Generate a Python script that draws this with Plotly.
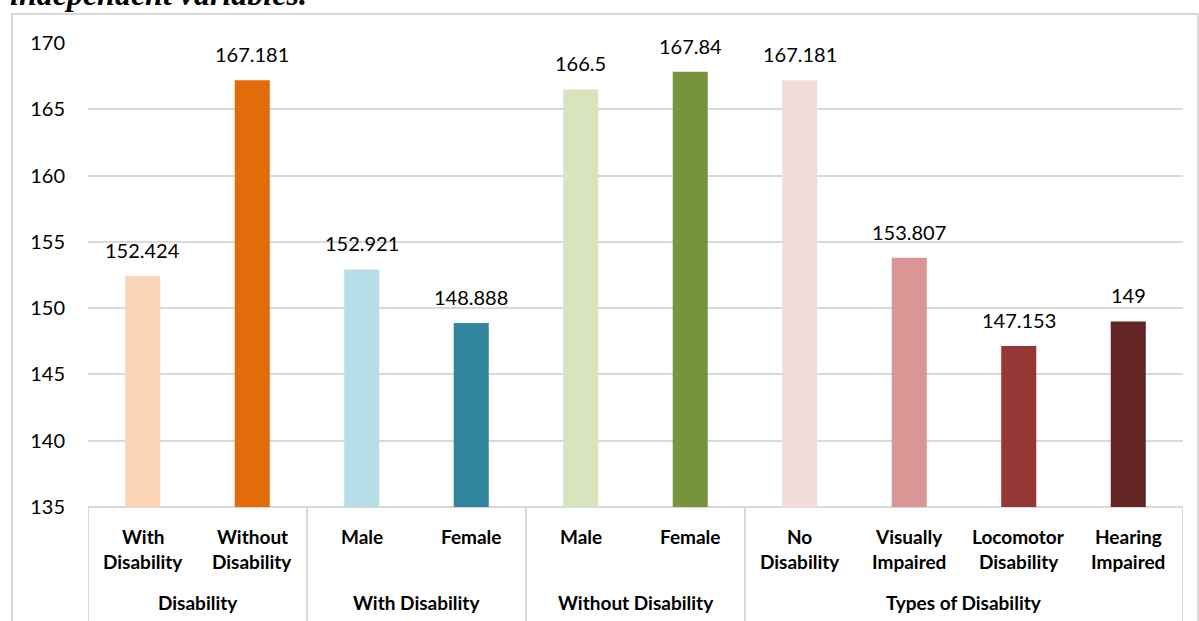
import plotly.graph_objects as go

# ---- data ----
values = [152.424, 167.181, 152.921, 148.888, 166.5, 167.84, 167.181, 153.807, 147.153, 149]
value_labels = ["152.424", "167.181", "152.921", "148.888", "166.5", "167.84", "167.181", "153.807", "147.153", "149"]
label_line1 = ["With", "Without", "Male", "Female", "Male", "Female", "No", "Visually", "Locomotor", "Hearing"]
label_line2 = ["Disability", "Disability", "", "", "", "", "Disability", "Impaired", "Disability", "Impaired"]
groups = ["Disability", "With Disability", "Without Disability", "Types of Disability"]
group_sizes = [2, 2, 2, 4]
bar_colors = ["#FBD5B5", "#E36C0A", "#B7DEE8", "#31859C", "#D7E4BD",
              "#77933C", "#F2DCDB", "#D99694", "#953735", "#632523"]
y_ticks = [135, 140, 145, 150, 155, 160, 165, 170]
title_text = "independent variables."

W, H = 1199, 621
ML, MR, MT, MB = 88, 16, 43, 114
PW = W - ML - MR
PH = H - MT - MB


def px_x(p):
    return (p - ML) / PW


def px_y(p):
    return (H - MB - p) / PH


FONT = "Lato"
LBL = 19
n = len(values)
xs = list(range(n))

fig = go.Figure()
fig.add_trace(go.Bar(
    x=xs, y=values, marker=dict(color=bar_colors, line=dict(width=0)),
    width=0.32, hoverinfo="skip", showlegend=False,
))

annotations = []
# value labels
for i, v in enumerate(values):
    annotations.append(dict(
        x=i, y=v, xref="x", yref="y", text=value_labels[i], showarrow=False,
        yanchor="bottom", xanchor="center", yshift=12,
        font=dict(family=FONT, size=20, color="#000000"),
    ))
# category labels
for i in range(n):
    annotations.append(dict(
        x=i, y=px_y(536), xref="x", yref="paper", text="<b>%s</b>" % label_line1[i],
        showarrow=False, yanchor="middle", xanchor="center",
        font=dict(family=FONT, size=LBL, color="#000000"),
    ))
    if label_line2[i]:
        annotations.append(dict(
            x=i, y=px_y(561), xref="x", yref="paper", text="<b>%s</b>" % label_line2[i],
            showarrow=False, yanchor="middle", xanchor="center",
            font=dict(family=FONT, size=LBL, color="#000000"),
        ))
# group labels & separators
shapes = []
start = 0
bounds = [-0.5]
for g, s in zip(groups, group_sizes):
    center = start + (s - 1) / 2
    annotations.append(dict(
        x=center, y=px_y(602), xref="x", yref="paper", text="<b>%s</b>" % g,
        showarrow=False, yanchor="middle", xanchor="center",
        font=dict(family=FONT, size=LBL, color="#000000"),
    ))
    start += s
    bounds.append(start - 0.5)
for b in bounds:
    shapes.append(dict(type="line", xref="x", yref="paper", x0=b, x1=b,
                       y0=0, y1=px_y(640), line=dict(color="#D9D9D9", width=2)))
# axis line at the bottom of the plot
shapes.append(dict(type="line", xref="paper", yref="paper", x0=0, x1=1, y0=0, y1=0,
                   line=dict(color="#D9D9D9", width=2), layer="below"))
# outer chart border
shapes.append(dict(type="rect", xref="paper", yref="paper",
                   x0=px_x(12), x1=px_x(1198), y0=px_y(660), y1=px_y(14),
                   line=dict(color="#D9D9D9", width=2), fillcolor="rgba(0,0,0,0)", layer="below"))

# title (cut off at the top, as in the source)
annotations.append(dict(
    x=px_x(8), y=px_y(14), xref="paper", yref="paper", text="<b><i>%s</i></b>" % title_text,
    showarrow=False, xanchor="left", yanchor="bottom",
    font=dict(family="Liberation Serif", size=32, color="#000000"),
))

fig.update_layout(
    width=W, height=H,
    margin=dict(l=ML, r=MR, t=MT, b=MB),
    paper_bgcolor="white", plot_bgcolor="white",
    annotations=annotations, shapes=shapes,
    bargap=0.68,
    xaxis=dict(range=[-0.5, n - 0.5], showticklabels=False, showgrid=False,
               zeroline=False, showline=False, fixedrange=True),
    yaxis=dict(range=[135, 170], tickvals=y_ticks, ticktext=[str(t) for t in y_ticks],
               showgrid=True, gridcolor="#D9D9D9", gridwidth=2, zeroline=False,
               showline=False, ticks="", ticklabelstandoff=22,
               tickfont=dict(family=FONT, size=20, color="#000000"), fixedrange=True),
)

fig.write_html("out.html")
